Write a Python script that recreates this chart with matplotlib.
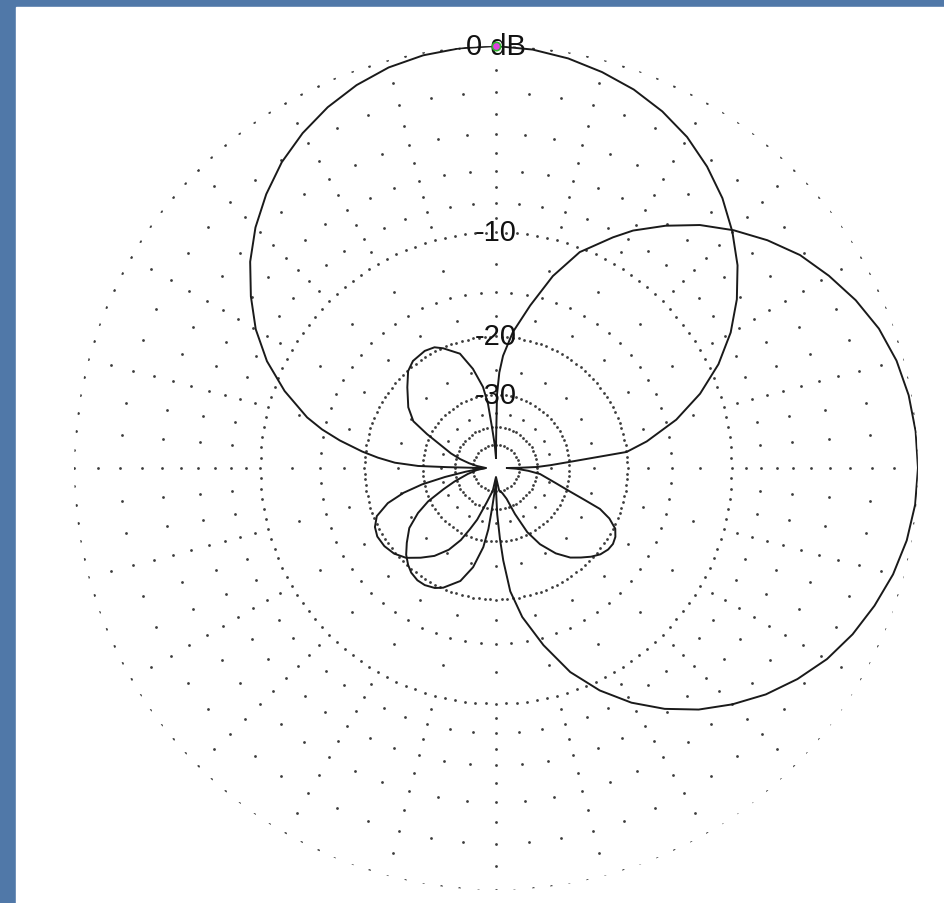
import numpy as np
import matplotlib
matplotlib.use("Agg")
import matplotlib.pyplot as plt
from matplotlib.patches import Rectangle

# Azimuth pattern A (main lobe toward 0 deg), bearing in degrees, gain in dB
az_a = [0, 5, 10, 15, 20, 25, 30, 35, 40, 45, 50, 55, 60, 65, 70, 75, 80, 83,
        85, 87, 88.6, 89.5, 90, 92, 95, 97.8, 104, 107.6, 109.9, 111.5, 114,
        117, 120, 123, 126, 129.6, 133, 136.5, 140.3, 145, 150, 154, 157.6,
        161, 166, 172, 180, 188, 195, 200, 203, 206, 210, 215, 220, 225, 230,
        235, 240, 244, 248, 252, 255, 257.5, 260, 263, 266, 270, 270.5, 271,
        271.5, 273, 275, 277, 280, 282.5, 285, 290, 295, 300, 305, 310, 315,
        320, 325, 330, 335, 340, 345, 350, 355]
db_a = [0.0, -0.08, -0.25, -0.5, -0.8, -1.2, -1.7, -2.35, -3.1, -4.0, -5.0,
        -6.2, -7.6, -9.3, -11.4, -14.0, -17.4, -20.0, -29.0, -35.0, -40.0,
        -50.0, -63.0, -52.0, -44.0, -38.6, -33.2, -29.1, -25.6, -22.8, -21.0,
        -19.7, -19.2, -19.0, -19.1, -19.5, -20.2, -21.1, -22.1, -24.0, -26.9,
        -30.5, -36.7, -44.0, -48.0, -50.0, -66.0, -50.0, -42.5, -35.0, -31.8,
        -28.5, -25.7, -23.5, -22.0, -20.6, -19.8, -19.4, -19.3, -19.6, -20.4,
        -22.5, -25.5, -29.5, -36.0, -45.0, -54.0, -64.0, -50.0, -37.0, -29.0,
        -24.5, -21.8, -19.6, -16.8, -14.8, -13.2, -10.8, -8.8, -7.2, -5.9,
        -4.7, -3.7, -2.85, -2.1, -1.5, -1.0, -0.6, -0.3, -0.12, -0.03]

# Azimuth pattern B (main lobe toward 90 deg)
az_b = [0, 0.3, 0.8, 2, 3.6, 7.1, 11.9, 16.5, 21.2, 26.9, 30, 35, 40, 45, 50,
        55, 60, 65, 70, 75, 80, 85, 90, 95, 100, 105, 110, 115, 120, 125, 130,
        135, 140, 145, 150, 155, 160, 165, 170, 173.4, 175.5, 176.8, 178.5,
        179.5, 180, 182, 185.6, 187.1, 189.1, 193, 197.5, 203.8, 207, 211.3,
        215, 219, 222.2, 226, 230, 235.3, 240, 243.8, 248, 252, 258, 264, 270,
        276, 280, 284, 288, 291.6, 296.2, 299.5, 304.7, 312.3, 317.8, 322.2,
        328.7, 333, 336.2, 342.5, 346.9, 350.9, 352.9, 354.4, 357]
db_b = [-64.0, -45.0, -30.0, -25.5, -22.7, -19.3, -16.0, -12.8, -10.3, -8.4,
        -7.4, -6.1, -4.9, -3.9, -3.0, -2.2, -1.6, -1.05, -0.6, -0.3, -0.12,
        -0.03, 0.0, -0.05, -0.2, -0.45, -0.8, -1.2, -1.7, -2.35, -3.1, -4.0,
        -5.0, -6.2, -7.6, -9.3, -11.4, -14.3, -17.6, -21.0, -26.0, -30.6,
        -38.0, -48.0, -64.0, -53.0, -40.0, -33.0, -28.5, -24.4, -21.8, -20.1,
        -19.6, -19.3, -19.3, -19.6, -20.1, -20.9, -22.1, -23.8, -26.5, -29.5,
        -34.5, -39.0, -46.0, -53.0, -64.0, -53.0, -47.0, -41.8, -37.5, -34.4,
        -29.2, -25.6, -23.6, -21.6, -20.1, -19.5, -19.3, -19.5, -20.1, -21.6,
        -24.4, -28.1, -32.2, -40.0, -50.0]

# Grid levels in dB
rings_major = [0, -10, -20, -30, -40, -50]
rings_major_step = [2.5, 2.5, 2.5, 4, 6, 10]
rings_minor = [-2, -4, -6, -8, -15]
spoke_levels = [-1, -3, -5, -7, -9, -12.5, -17.5, -25, -35]
label_levels = [0, -10, -20, -30]
label_texts = ["0 dB", "-10", "-20", "-30"]


def arrl_fwd(db):
    # ARRL log scale: radius shrinks by 0.89 for every 2 dB
    return np.power(0.89, -np.asarray(db, dtype=float) / 2.0)


def arrl_inv(r):
    r = np.clip(np.asarray(r, dtype=float), 1e-12, None)
    return -2.0 * np.log(r) / np.log(0.89)


fig = plt.figure(figsize=(9.45, 9.04), dpi=100)
fig.patch.set_facecolor("#5078a8")
fig.patches.append(Rectangle((16 / 945, 0), 1, 896 / 904,
                             transform=fig.transFigure, color="white",
                             zorder=-10))

ax = fig.add_axes([0.0783, 0.0144, 0.8931, 0.9336], projection="polar")
ax.set_zorder(2)
ax.set_facecolor("none")
ax.set_theta_zero_location("N")
ax.set_theta_direction(-1)
ax.set_rscale("function", functions=(arrl_fwd, arrl_inv))
ax.set_rlim(-200, 0)
ax.set_xticks([])
ax.set_yticks([])
ax.grid(False)
ax.spines["polar"].set_visible(False)

dot = dict(linestyle="none", marker="o", ms=2.0, color="#3c3c3c", mew=0)

# dotted rings
for lev, step in zip(rings_major, rings_major_step):
    th = np.deg2rad(np.arange(0, 360, step))
    ax.plot(th, np.full(th.size, lev), **dot)
for lev in rings_minor:
    th = np.deg2rad(np.arange(0, 360, 5))
    ax.plot(th, np.full(th.size, lev), **dot)

# dotted spokes every 15 deg
sp_th, sp_r = np.meshgrid(np.deg2rad(np.arange(0, 360, 15)), spoke_levels)
ax.plot(sp_th.ravel(), sp_r.ravel(), **dot)

# patterns
for az, db in ((az_a, db_a), (az_b, db_b)):
    th = np.deg2rad(list(az) + [az[0] + 360])
    ax.plot(th, list(db) + [db[0]], color="#1a1a1a", lw=1.4, zorder=3)

# dB labels on the 0 deg line
for lev, txt in zip(label_levels, label_texts):
    ax.text(0, lev, txt, ha="center", va="center", fontsize=21,
            family="Liberation Sans", color="#111111", zorder=4)

# cursor marker at the maximum
ax.plot([0], [0], marker="o", ms=6, mfc="#e040e0", mec="#30b030", mew=1.2,
        zorder=5, clip_on=False)

fig.savefig("out.png", dpi=100)
